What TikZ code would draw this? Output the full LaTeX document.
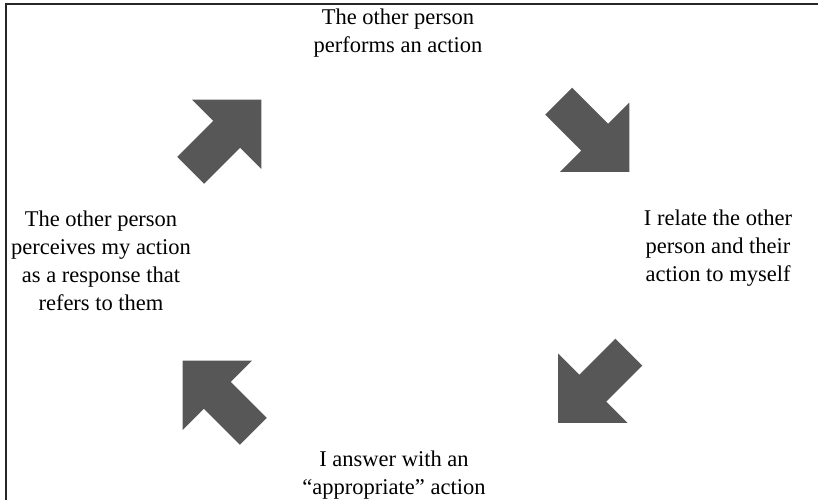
\documentclass[tikz,border=0pt]{standalone}
\usepackage{fontspec}
\setmainfont{Liberation Serif}
\begin{document}
\begin{tikzpicture}[x=1pt,y=-1pt,
  label text/.style={align=center, inner sep=0pt, font=\fontsize{22.5}{28}\selectfont},
  cycle arrow/.pic={
    \fill[arrowgray] (-50,-19) -- (1,-19) -- (1,-49) -- (50,0) -- (1,49) -- (1,19) -- (-50,19) -- cycle;
  }]
\definecolor{arrowgray}{HTML}{575757}
\useasboundingbox (0,0) rectangle (818,500);
% frame along the top and left edges
\draw[line width=1.6pt, black!85] (6,500) -- (6,4) -- (818,4);

% the four steps of the cycle
\node[label text] (act)     at (398,33)  {The other person\\performs an action};
\node[label text] (relate)  at (718,248.5) {I relate the other\\person and their\\action to myself};
\node[label text] (answer)  at (394,475) {I answer with an\\“appropriate” action};
\node[label text] (perceive) at (101,260.5) {The other person\\perceives my action\\as a response that\\refers to them};

% block arrows between the steps
\pic[shift={(226,135)}, rotate=45]   {cycle arrow};
\pic[shift={(594,136.5)}, rotate=-45] {cycle arrow};
\pic[shift={(593.5,387.5)}, rotate=-135] {cycle arrow};
\pic[shift={(218,396)}, rotate=135]  {cycle arrow};
\end{tikzpicture}
\end{document}
